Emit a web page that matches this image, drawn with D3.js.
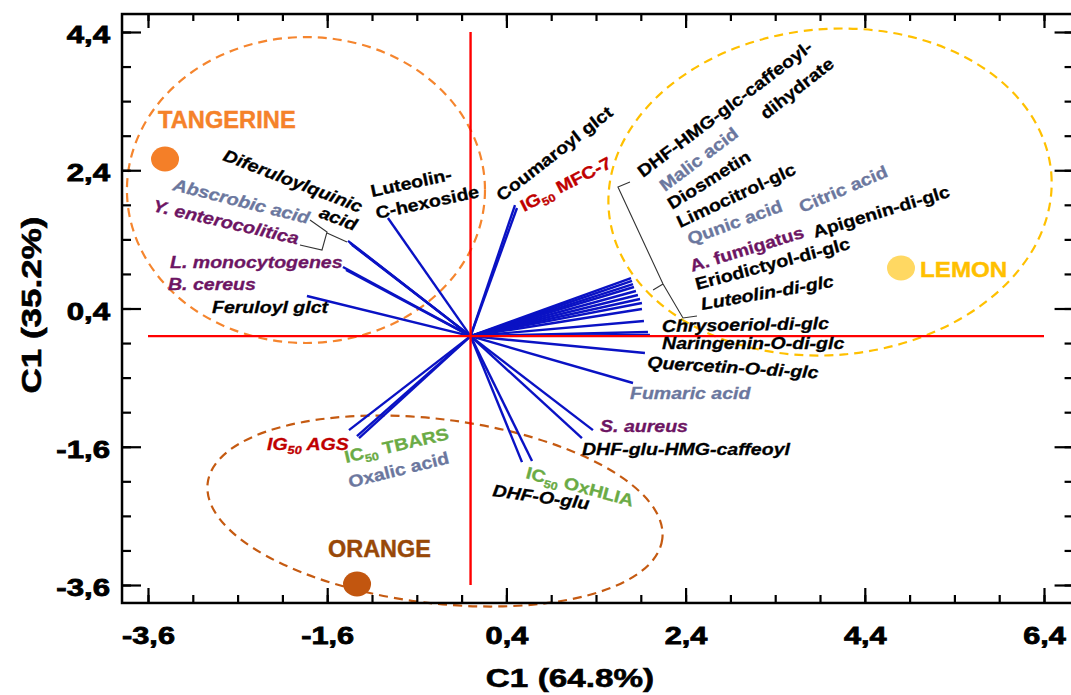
<!DOCTYPE html>
<html><head><meta charset="utf-8">
<script src="https://cdn.jsdelivr.net/npm/d3@7"></script>
<style>
body{margin:0;background:#fff}
svg{display:block}
text{font-family:"Liberation Sans",Arial,sans-serif;font-weight:bold}
</style>
</head><body>
<svg id="chart" width="1071" height="695"></svg>
<script>
// ---------- DATA ----------
const variables = ["Diferuloylquinic acid","Abscrobic acid","Y. enterocolitica","L. monocytogenes","B. cereus",
  "Feruloyl glct","Luteolin-C-hexoside","Coumaroyl glct","IG50 MFC-7",
  "DHF-HMG-glc-caffeoyl-dihydrate","Malic acid","Diosmetin","Limocitrol-glc","Qunic acid","Citric acid",
  "Apigenin-di-glc","A. fumigatus","Eriodictyol-di-glc","Luteolin-di-glc","Chrysoeriol-di-glc",
  "Naringenin-O-di-glc","Quercetin-O-di-glc","Fumaric acid","S. aureus","DHF-glu-HMG-caffeoyl",
  "IC50 OxHLIA","DHF-O-glu","IG50 AGS","IC50 TBARS","Oxalic acid"];
const loadingC1 = [-1.368,-1.346,-1.324,-1.424,-1.390,-1.826,-0.922,0.496,0.518,
  1.791,1.802,1.813,1.824,1.846,1.868,1.891,1.913,1.913,1.935,1.980,2.002,1.946,1.813,1.366,1.243,
  0.574,0.686,-1.357,-1.245,-1.268];
const loadingC2 = [1.379,1.350,1.321,1.000,0.957,0.581,1.709,1.897,1.854,
  0.841,0.798,0.754,0.711,0.653,0.595,0.537,0.480,0.393,0.219,0.060,0.017,-0.244,-0.678,-1.360,-1.475,
  -1.822,-1.807,-1.360,-1.475,-1.446];

const samples = ["TANGERINE","LEMON","ORANGE"];
const sampleC1 = [-3.41, 4.804, -1.267];
const sampleC2 = [2.563, 0.986, -3.586];

const xTickLabels = [-3.6,-1.6,0.4,2.4,4.4,6.4];
const yTickLabels = [-3.6,-1.6,0.4,2.4,4.4];
const xMinorTicks = [-3.6,-3.1,-2.6,-2.1,-1.6,-1.1,-0.6,-0.1,0.4,0.9,1.4,1.9,2.4,2.9,3.4,3.9,4.4,4.9,5.4,5.9,6.4];
const yMinorTicks = [-3.6,-3.1,-2.6,-2.1,-1.6,-1.1,-0.6,-0.1,0.4,0.9,1.4,1.9,2.4,2.9,3.4,3.9,4.4];

// ---------- STYLE / LAYOUT ----------
const K="#000000", G="#6b779e", P="#6d1563", R="#c00000", GR="#6aab45";
const sampleStyle = {
  TANGERINE:{fill:"#f47f28", label:"#f5822a", ring:"#f5852e"},
  LEMON:{fill:"#ffd862", label:"#ffc000", ring:"#ffc000"},
  ORANGE:{fill:"#c2560f", label:"#984808", ring:"#c55a11"}
};

const svg = d3.select("#chart");
const x = d3.scaleLinear().domain([-3.6, 6.4]).range([148, 1044]);
const y = d3.scaleLinear().domain([-3.6, 4.4]).range([585, 32]);
const xLim = [-3.89, 6.73], yLim = [-3.86, 4.66];
const fmt = d => d3.format(".1f")(d).replace(".", ",").replace("\u2212", "-");

// group ellipses (annotation, in data units)
const rings = [
  {s:"TANGERINE", cx:-1.837, cy:2.114, rx:1.998, ry:2.213, rot:0},
  {s:"LEMON", cx:4.012, cy:2.085, rx:2.478, ry:2.358, rot:-5},
  {s:"ORANGE", cx:-0.397, cy:-2.53, rx:2.556, ry:1.331, rot:7}
];
const ringG = svg.append("g");
rings.forEach(r => {
  ringG.append("ellipse")
    .attr("transform", `translate(${x(r.cx)},${y(r.cy)}) rotate(${r.rot})`)
    .attr("rx", x(r.cx + r.rx) - x(r.cx)).attr("ry", y(r.cy) - y(r.cy + r.ry))
    .attr("fill", "none").attr("stroke", sampleStyle[r.s].ring)
    .attr("stroke-width", 2.2).attr("stroke-dasharray", "9,6");
});

// loading vectors
svg.append("g").selectAll("line").data(variables).join("line")
  .attr("x1", x(0)).attr("y1", y(0))
  .attr("x2", (d,i) => x(loadingC1[i])).attr("y2", (d,i) => y(loadingC2[i]))
  .attr("stroke", "#0a12c4").attr("stroke-width", 2.4);

// red cross-hair
svg.append("line").attr("x1", x(-3.6)).attr("x2", x(6.4)).attr("y1", y(0)).attr("y2", y(0))
  .attr("stroke", "#ff0000").attr("stroke-width", 2.4);
svg.append("line").attr("x1", x(0)).attr("x2", x(0)).attr("y1", y(4.4)).attr("y2", y(-3.6))
  .attr("stroke", "#ff0000").attr("stroke-width", 2.4);

// brackets
const brackets = [
  [[[-1.792,1.680],[-1.602,1.507],[-1.658,1.246],[-1.904,1.319]], [[-1.602,1.493],[-1.379,1.362]]],
  [[[1.779,2.23],[1.645,2.158],[2.148,0.754],[2.371,0.263],[2.527,0.292]], [[2.148,0.754],[2.037,0.668]]]
];
const ln = d3.line().x(d => x(d[0])).y(d => y(d[1]));
brackets.forEach(b => b.forEach(seg => svg.append("path").attr("d", ln(seg))
  .attr("fill","none").attr("stroke","#333").attr("stroke-width",1.1)));

// sample points
svg.append("g").selectAll("ellipse").data(samples).join("ellipse")
  .attr("cx", (d,i) => x(sampleC1[i])).attr("cy", (d,i) => y(sampleC2[i]))
  .attr("rx", 14).attr("ry", 12.5).attr("fill", d => sampleStyle[d].fill);

// sample labels
const sampleLabels = [
  {s:"TANGERINE", x:-3.488, y:3.011, fs:23, k:1.03},
  {s:"LEMON", x:5.016, y:0.856, fs:22, k:1.1},
  {s:"ORANGE", x:-1.591, y:-3.195, fs:23, k:1.02}
];
sampleLabels.forEach(l => svg.append("text")
  .attr("transform", `translate(${x(l.x)},${y(l.y)}) scale(${l.k},1)`)
  .attr("font-size", l.fs).attr("fill", sampleStyle[l.s].label)
  .attr("stroke", sampleStyle[l.s].label).attr("stroke-width", 0.4).text(l.s));

// variable labels
const labels = [
  {t:[["Diferuloylquinic"]], x:-2.774, y:2.548, a:21, c:K, it:1},
  {t:[["acid"]], x:-1.703, y:1.724, a:21, c:K, it:1},
  {t:[["Abscrobic acid"]], x:-3.332, y:2.114, a:14, c:G, it:1},
  {t:[["Y. enterocolitica"]], x:-3.555, y:1.81, a:13, c:P, it:1},
  {t:[["L. monocytogenes"]], x:-3.354, y:0.986, a:0, c:P, it:1},
  {t:[["B. cereus"]], x:-3.377, y:0.668, a:0, c:P, it:1},
  {t:[["Feruloyl glct"]], x:-2.886, y:0.335, a:0, c:K, it:1},
  {t:[["Luteolin-"]], x:-1.1, y:2.013, a:-12, c:K},
  {t:[["C-hexoside"]], x:-1.044, y:1.695, a:-12, c:K},
  {t:[["Coumaroyl glct"]], x:0.351, y:1.941, a:-38, c:K},
  {t:[["IG"],["50",1],[" MFC-7"]], x:0.596, y:1.796, a:-27, c:R},
  {t:[["DHF-HMG-glc-caffeoyl-"]], x:1.925, y:2.288, a:-37, c:K},
  {t:[["dihydrate"]], x:3.297, y:3.127, a:-38, c:K},
  {t:[["Malic acid"]], x:2.17, y:2.085, a:-37, c:G},
  {t:[["Diosmetin"]], x:2.248, y:1.825, a:-32, c:K},
  {t:[["Limocitrol-glc"]], x:2.338, y:1.565, a:-25, c:K},
  {t:[["Qunic acid"]], x:2.449, y:1.319, a:-20, c:G},
  {t:[["Citric acid"]], x:3.699, y:1.782, a:-23, c:G},
  {t:[["A. fumigatus"]], x:2.471, y:0.928, a:-17, c:P},
  {t:[["Apigenin-di-glc"]], x:3.844, y:1.42, a:-17, c:K},
  {t:[["Eriodictyol-di-glc"]], x:2.527, y:0.668, a:-15, c:K},
  {t:[["Luteolin-di-glc"]], x:2.583, y:0.378, a:-10, c:K, it:1},
  {t:[["Chrysoeriol-di-glc"]], x:2.137, y:0.06, a:-1, c:K, it:1},
  {t:[["Naringenin-O-di-glc"]], x:2.137, y:-0.186, a:0, c:K, it:1},
  {t:[["Quercetin-O-di-glc"]], x:1.969, y:-0.461, a:3.5, c:K, it:1},
  {t:[["Fumaric acid"]], x:1.779, y:-0.909, a:0, c:G, it:1},
  {t:[["S. aureus"]], x:1.445, y:-1.387, a:0, c:P, it:1},
  {t:[["DHF-glu-HMG-caffeoyl"]], x:1.244, y:-1.719, a:0, c:K, it:1},
  {t:[["IC"],["50",1],[" OxHLIA"]], x:0.608, y:-2.052, a:15, c:GR},
  {t:[["DHF-O-glu"]], x:0.239, y:-2.313, a:8, c:K, it:1},
  {t:[["IG"],["50",1],[" AGS"]], x:-2.272, y:-1.647, a:0, c:R, it:1},
  {t:[["IC"],["50",1],[" TBARS"]], x:-1.39, y:-1.835, a:-13, c:GR},
  {t:[["Oxalic acid"]], x:-1.346, y:-2.197, a:-14, c:G}
];
const lg = svg.append("g");
labels.forEach(l => {
  const t = lg.append("text")
    .attr("transform", `translate(${x(l.x)},${y(l.y)}) rotate(${l.a}) scale(1.15,1)`)
    .attr("font-size", 17).attr("fill", l.c)
    .attr("stroke", l.c).attr("stroke-width", 0.3)
    .attr("font-style", l.it ? "italic" : "normal");
  l.t.forEach(p => {
    if (p[1]) t.append("tspan").attr("font-size", 11).attr("dy", 4).text(p[0]);
    else if (t.selectAll("tspan").size() > 0) t.append("tspan").attr("dy", -4).text(p[0]);
    else t.append("tspan").text(p[0]);
  });
});

// ---------- AXES ----------
const fx0 = x(xLim[0]), fx1 = x(xLim[1]), fy0 = y(yLim[1]), fy1 = y(yLim[0]);
function styleAxis(g){ g.select(".domain").remove(); g.selectAll("line").attr("stroke","#000").attr("stroke-width",2.2); }
// minor ticks
svg.append("g").attr("transform", `translate(0,${fy1})`).call(d3.axisBottom(x).tickValues(xMinorTicks).tickSize(-8).tickFormat("")).call(styleAxis);
svg.append("g").attr("transform", `translate(0,${fy0})`).call(d3.axisTop(x).tickValues(xMinorTicks).tickSize(-7).tickFormat("")).call(styleAxis);
svg.append("g").attr("transform", `translate(${fx0},0)`).call(d3.axisLeft(y).tickValues(yMinorTicks).tickSize(-9).tickFormat("")).call(styleAxis);
svg.append("g").attr("transform", `translate(${fx1},0)`).call(d3.axisRight(y).tickValues(yMinorTicks).tickSize(-9).tickFormat("")).call(styleAxis);
// major ticks with labels
const xb = svg.append("g").attr("transform", `translate(0,${fy1})`)
  .call(d3.axisBottom(x).tickValues(xTickLabels).tickSize(-15).tickPadding(24).tickFormat(fmt)).call(styleAxis);
xb.selectAll("text").attr("font-size", 24).attr("fill","#000").attr("font-family",null)
  .attr("stroke","#000").attr("stroke-width",0.8)
  .attr("transform","scale(1.28,1)");
svg.append("g").attr("transform", `translate(0,${fy0})`)
  .call(d3.axisTop(x).tickValues(xTickLabels).tickSize(-14).tickFormat("")).call(styleAxis);
const yl = svg.append("g").attr("transform", `translate(${fx0},0)`)
  .call(d3.axisLeft(y).tickValues(yTickLabels).tickSize(-19).tickPadding(12).tickFormat(fmt)).call(styleAxis);
yl.selectAll("text").attr("font-size", 24).attr("fill","#000").attr("font-family",null)
  .attr("stroke","#000").attr("stroke-width",0.8)
  .attr("x", 0).attr("dy","0.44em").attr("transform","translate(-12,0) scale(1.3,1)");
svg.append("g").attr("transform", `translate(${fx1},0)`)
  .call(d3.axisRight(y).tickValues(yTickLabels).tickSize(-19).tickFormat("")).call(styleAxis);

// frame
svg.append("rect").attr("x", fx0).attr("y", fy0).attr("width", fx1 - fx0).attr("height", fy1 - fy0)
  .attr("fill","none").attr("stroke","#000").attr("stroke-width",2.5);

// axis titles
svg.append("text").attr("transform", `translate(570,687) scale(1.28,1)`)
  .attr("text-anchor","middle").attr("font-size",26).attr("stroke","#000").attr("stroke-width",0.6).text("C1 (64.8%)");
svg.append("text").attr("transform", `translate(41,305) rotate(-90) scale(1.25,1)`)
  .attr("text-anchor","middle").attr("font-size",28).attr("stroke","#000").attr("stroke-width",0.6).text("C1 (35.2%)");
</script>
</body></html>
